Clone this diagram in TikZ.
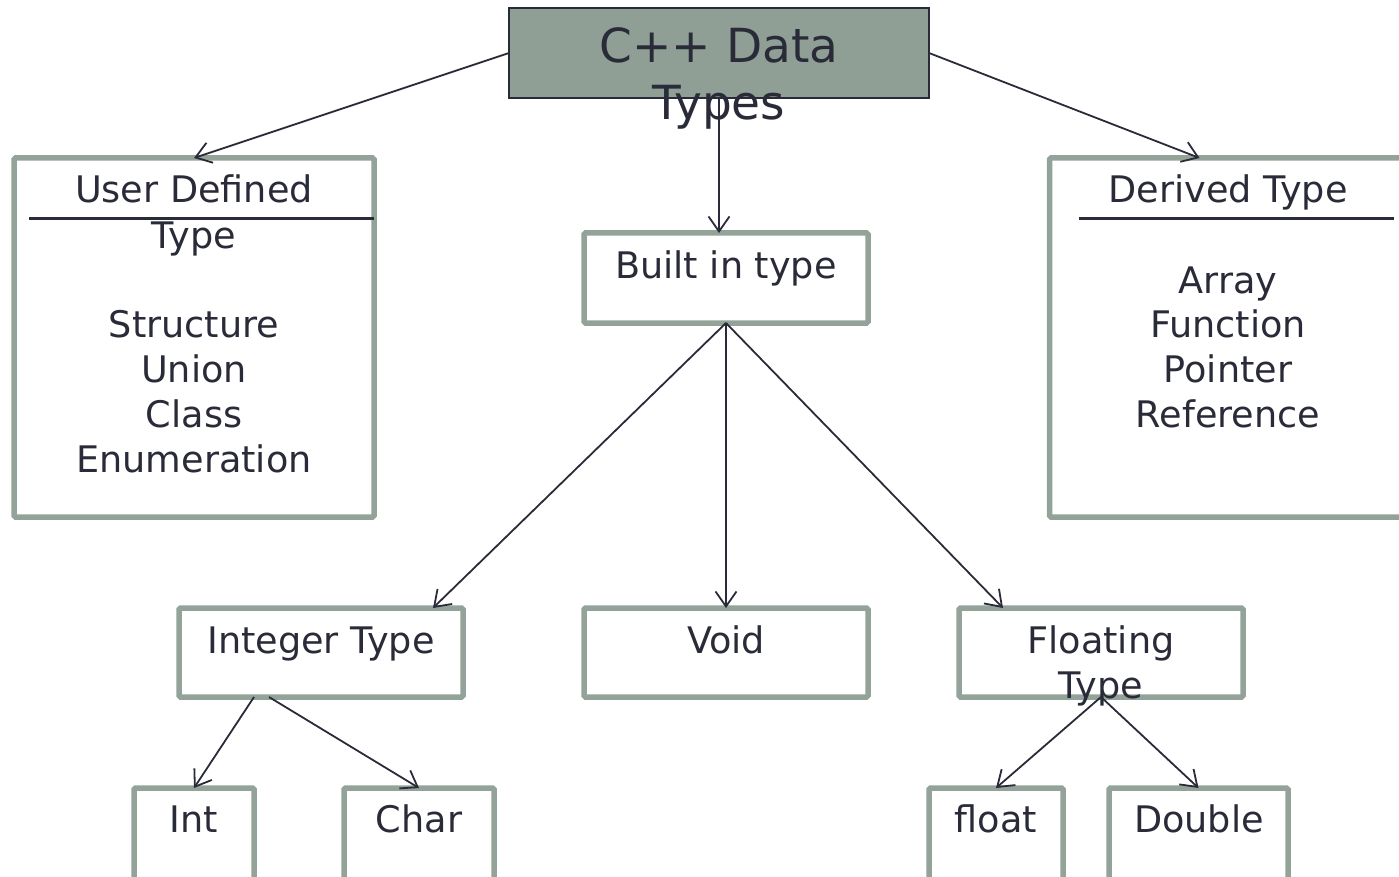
\documentclass[tikz,border=0pt]{standalone}
\usepackage{fontspec}
\setmainfont{DejaVu Sans}
\usetikzlibrary{arrows.meta,calc}
\definecolor{ink}{HTML}{2A2B38}
\definecolor{frame}{HTML}{94A399}
\definecolor{titlefill}{HTML}{909F95}
\begin{document}
\begin{tikzpicture}[x=1pt,y=-1pt,
  box/.style={draw=frame, line width=5.5pt, rounded corners=1.5pt, fill=white, inner sep=0pt, outer sep=0pt},
  titlebox/.style={draw=ink, line width=2pt, fill=titlefill, inner sep=0pt, outer sep=0pt},
  lbl/.style={anchor=base, inner sep=0pt, text=ink, font=\fontsize{36.6}{44}\selectfont},
  biglbl/.style={anchor=base, inner sep=0pt, text=ink, font=\fontsize{47}{56}\selectfont},
  conn/.style={draw=ink, line width=1.8pt, -{Straight Barb[length=15pt,width=21pt]}},
  divider/.style={draw=ink, line width=2.2pt}]
\useasboundingbox (0,0) rectangle (1399,877);
\clip (0,0) rectangle (1399,877);

% boxes
\node[titlebox, minimum width=420, minimum height=90] (top) at (719,53) {};
\node[box, minimum width=360, minimum height=359] (ud) at (194,337.5) {};
\node[box, minimum width=360.5, minimum height=359] (der) at (1229.75,337.5) {};
\node[box, minimum width=284, minimum height=90] (bit) at (726,278) {};
\node[box, minimum width=284, minimum height=89] (intg) at (321,652.5) {};
\node[box, minimum width=284, minimum height=89] (void) at (726,652.5) {};
\node[box, minimum width=284, minimum height=89] (flt) at (1101,652.5) {};
\node[box, minimum width=120, minimum height=100] (tint) at (194,838) {};
\node[box, minimum width=150, minimum height=100] (tchar) at (419,838) {};
\node[box, minimum width=134, minimum height=100] (tflt) at (996,838) {};
\node[box, minimum width=179, minimum height=100] (tdbl) at (1198.5,838) {};

% header rules in the two side boxes
\draw[divider] ($(ud.north west)+(15,60.5)$) -- ($(ud.north east)+(0,60.5)$);
\draw[divider] ($(der.north west)+(29.5,60.5)$) -- ++(315,0);

% connectors
\draw[conn] (top.west) -- (ud.north);
\draw[conn] (top.east) -- ($(der.north west)+(150,0)$);
\draw[conn] (top.south) -- (top.south |- bit.north);
\draw[conn] (bit.south) -- ($(intg.north east)+(-30,0)$);
\draw[conn] (bit.south) -- (void.north);
\draw[conn] (bit.south) -- ($(flt.north west)+(44,0)$);
\draw[conn] ($(intg.south west)+(75,0)$) -- (tint.north);
\draw[conn] ($(intg.south west)+(90,0)$) -- (tchar.north);
\draw[conn] (flt.south) -- (tflt.north);
\draw[conn] (flt.south) -- (tdbl.north);

% texts
\node[biglbl] (top1) at (719,63) {C++ Data};
\node[biglbl] (top2) at (719,120) {Types};

\node[lbl] (ud1) at (194,203) {User Defined};
\node[lbl] (ud2) at (194,248) {Type};
\node[lbl] (ud3) at (194,337) {Structure};
\node[lbl] (ud4) at (194,382) {Union};
\node[lbl] (ud5) at (194,427) {Class};
\node[lbl] (ud6) at (194,472) {Enumeration};

\node[lbl] (der1) at (1228,203) {Derived Type};
\node[lbl] (der2) at (1228,293) {Array};
\node[lbl] (der3) at (1228,337) {Function};
\node[lbl] (der4) at (1228,382) {Pointer};
\node[lbl] (der5) at (1228,427) {Reference};

\node[lbl] (bit1) at (726,278) {Built in type};
\node[lbl] (intg1) at (321,653) {Integer Type};
\node[lbl] (void1) at (726,653) {Void};
\node[lbl] (flt1) at (1101,653) {Floating};
\node[lbl] (flt2) at (1101,698) {Type};
\node[lbl] (tint1) at (194,832) {Int};
\node[lbl] (tchar1) at (419,832) {Char};
\node[lbl] (tflt1) at (996,832) {float};
\node[lbl] (tdbl1) at (1199,832) {Double};
\end{tikzpicture}
\end{document}
